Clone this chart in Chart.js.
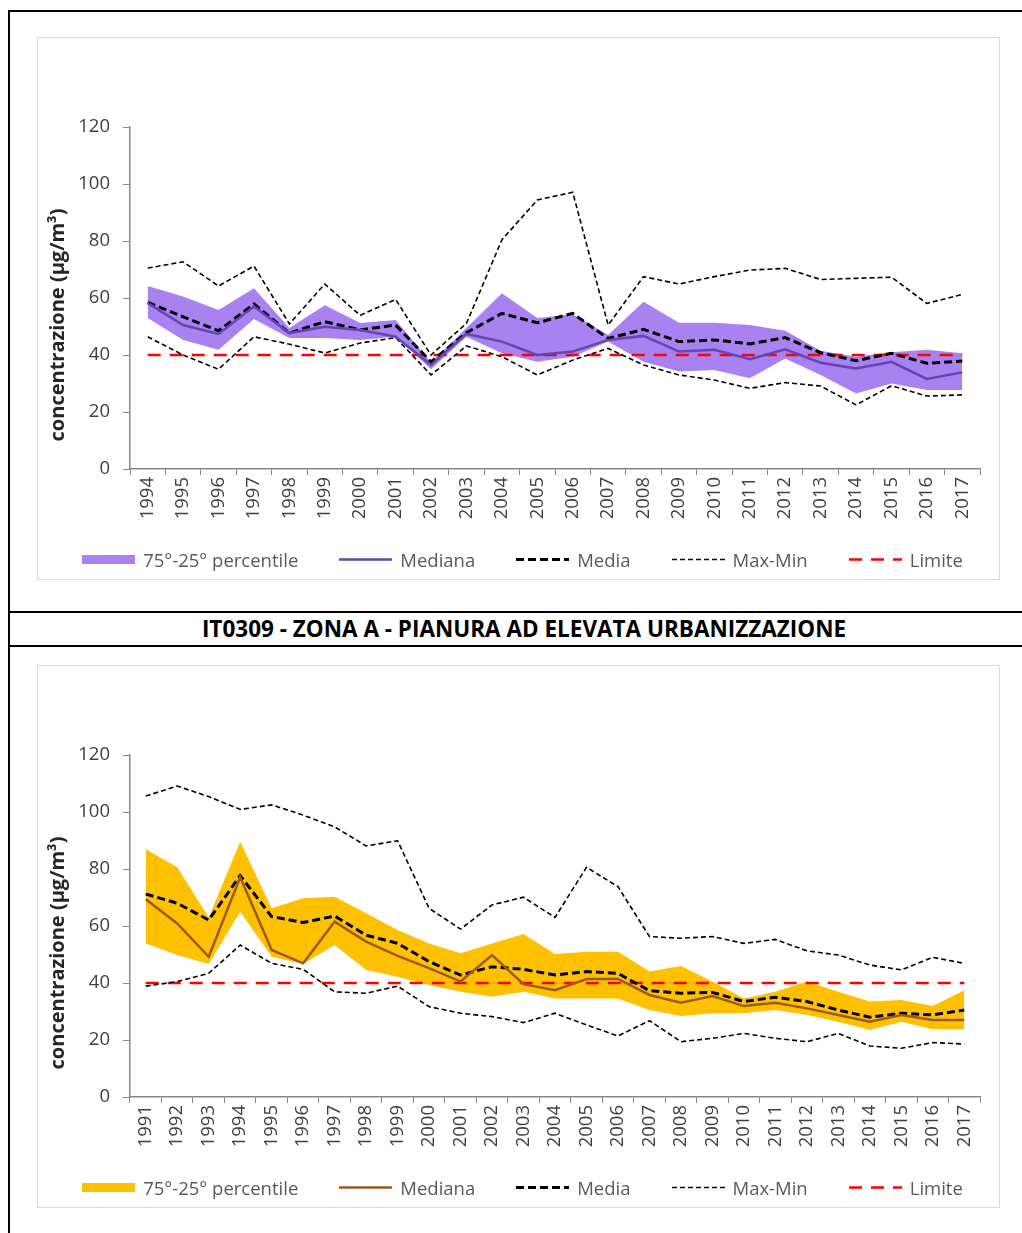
<!DOCTYPE html>
<html>
<head>
<meta charset="utf-8">
<script src="https://cdn.jsdelivr.net/npm/chart.js@4.4.1/dist/chart.umd.min.js"></script>
<style>
body { margin:0; background:#fff; width:1022px; height:1233px; position:relative; overflow:hidden; font-family:'Open Sans', sans-serif; }
.rule { position:absolute; background:#000; }
.box { position:absolute; left:37px; width:963px; height:543px; border:1px solid #d9d9d9; box-sizing:border-box; background:#fff; }
.box canvas { display:block; }
.legend { position:absolute; left:0; top:509px; width:961px; padding-left:8px; box-sizing:border-box;
          display:flex; justify-content:center; gap:41px; font-size:18.5px; line-height:25px; color:#595959; }
.legend .item { display:flex; align-items:center; gap:8px; white-space:nowrap; }
.legend svg { display:block; }
#title { position:absolute; left:24px; width:1000px; top:613px; height:32px; line-height:32px; text-align:center; font-weight:700; font-size:22.5px; color:#000; }
</style>
</head>
<body>
<div class="rule" style="left:8px;top:10px;width:1014px;height:2px"></div>
<div class="rule" style="left:8px;top:10px;width:2px;height:1223px"></div>
<div class="rule" style="left:8px;top:611px;width:1014px;height:2px"></div>
<div class="rule" style="left:8px;top:645px;width:1014px;height:2px"></div>
<div id="title">IT0309 - ZONA A - PIANURA AD ELEVATA URBANIZZAZIONE</div>

<div class="box" style="top:37px"><canvas id="chart1" width="961" height="541"></canvas><div class="legend" id="legend1"></div></div>
<div class="box" style="top:665px"><canvas id="chart2" width="961" height="541"></canvas><div class="legend" id="legend2"></div></div>

<script>
// ---------------------------------------------------------------
// top chart (1994-2017)
const years1 = ["1994","1995","1996","1997","1998","1999","2000","2001","2002","2003","2004","2005",
                "2006","2007","2008","2009","2010","2011","2012","2013","2014","2015","2016","2017"]
const p75_1   = [64.2,60.5,55.8,63.4,49.5,57.5,51.2,52.3,37.5,49.5,61.7,53.0,54.3,47.0,58.7,51.3,51.3,50.5,48.5,41.5,39.4,41.0,41.8,40.6]
const p25_1   = [53.0,45.3,41.8,52.6,46.0,46.0,45.3,46.4,35.0,46.4,40.6,37.6,39.4,44.7,37.6,34.2,34.7,31.8,38.8,33.0,26.5,30.0,27.7,27.7]
const mediana1 = [58.2,50.5,47.4,57.0,47.7,49.9,48.8,46.4,36.5,47.4,44.7,40.0,41.2,45.3,46.7,41.2,41.8,38.5,42.0,37.3,35.3,37.6,31.6,33.9]
const media1  = [58.5,53.4,48.5,57.9,47.7,51.7,48.8,50.5,37.6,47.8,54.6,51.3,54.6,45.8,49.0,44.7,45.3,43.9,46.1,40.8,38.0,40.6,37.1,37.9]
const max1    = [70.5,72.7,64.2,71.2,50.9,64.9,53.9,59.5,40.0,51.1,80.4,94.4,97.1,50.5,67.5,64.9,67.5,69.8,70.4,66.5,66.9,67.3,58.1,61.3]
const min1    = [46.4,40.0,35.0,46.4,43.8,40.7,44.2,46.1,33.0,43.2,39.4,33.0,38.2,42.3,36.5,33.0,31.2,28.3,30.3,29.1,22.5,29.2,25.6,26.0]

// bottom chart (1991-2017)
const years2 = ["1991","1992","1993","1994","1995","1996","1997","1998","1999","2000","2001","2002","2003","2004",
                "2005","2006","2007","2008","2009","2010","2011","2012","2013","2014","2015","2016","2017"]
const p75_2   = [86.9,80.6,63.0,89.6,66.2,69.7,70.3,64.5,58.6,53.9,50.4,53.9,57.2,50.2,51.0,51.0,44.0,46.0,40.5,34.6,36.9,40.5,36.9,33.5,34.0,31.9,37.5]
const p25_2   = [53.9,49.8,46.7,65.0,49.2,46.7,53.3,44.6,42.2,39.3,36.9,35.2,36.9,34.6,34.6,34.6,30.5,28.4,29.4,29.4,30.5,28.8,26.4,23.5,26.4,23.8,23.8]
const mediana2 = [69.4,60.9,49.2,77.1,51.6,46.9,61.5,54.5,49.5,45.2,40.5,49.8,39.6,37.5,41.4,41.4,35.8,33.1,35.4,31.9,33.1,31.1,28.8,26.4,28.8,27.0,27.0]
const media2  = [71.2,68.0,62.1,77.7,63.3,61.2,63.5,56.8,53.9,47.5,42.8,45.7,44.8,42.8,44.0,43.4,37.3,36.4,36.7,33.5,35.0,33.5,30.5,28.0,29.4,28.8,30.5]
const max2    = [105.6,109.1,105.4,100.9,102.5,98.9,94.8,88.1,89.9,66.2,58.9,67.4,70.1,63.0,80.6,73.8,56.3,55.7,56.3,53.9,55.3,51.3,49.8,46.3,44.6,49.0,46.9]
const min2    = [38.9,40.5,43.4,53.3,46.9,44.8,36.9,36.4,38.9,31.7,29.4,28.2,26.1,29.4,25.3,21.4,26.8,19.4,20.6,22.3,20.6,19.4,22.3,17.9,17.1,19.1,18.6]

const limite = 40
const yTicks = [0,20,40,60,80,100,120]

// ---------------------------------------------------------------
const FONT = "'Open Sans', sans-serif"

const yTitle = {
    id: 'yTitle',
    afterDraw (chart)
    {
        const ctx = chart.ctx
        ctx.save()
        ctx.translate(20, 287)
        ctx.rotate(-Math.PI / 2)
        ctx.font = "bold 20px " + FONT
        ctx.fillStyle = '#262626'
        ctx.textAlign = 'center'
        ctx.textBaseline = 'middle'
        ctx.fillText('concentrazione (µg/m³)', 0, 0)
        ctx.restore()
    }
}

function line (label, data, color, width, dash)
{
    return { label: label, data: data, borderColor: color, backgroundColor: color,
             borderWidth: width, borderDash: dash, pointRadius: 0, tension: 0, fill: false }
}

// legend built from the datasets, drawn as html below the canvas
function htmlLegend (chart, el)
{
    chart.data.datasets.filter(d => d.label !== '').forEach(d => {
        const sw = d.fill
            ? `<rect x="0" y="5" width="53" height="9" fill="${d.backgroundColor}"/>`
            : `<line x1="0" y1="9.5" x2="53" y2="9.5" stroke="${d.borderColor}" stroke-width="${d.borderWidth}" stroke-dasharray="${d.borderDash.join(' ')}"/>`
        const item = document.createElement('span')
        item.className = 'item'
        item.innerHTML = `<svg width="53" height="19">${sw}</svg><span>${d.label}</span>`
        el.appendChild(item)
    })
}

function makeChart (id, years, p75, p25, mediana, media, max, min, bandColor, medColor)
{
    const data = {
        labels: years,
        datasets: [
            { label: '75°-25° percentile', data: p75, backgroundColor: bandColor, borderWidth: 0,
              pointRadius: 0, tension: 0, fill: '+1' },
            { label: '', data: p25, backgroundColor: bandColor, borderWidth: 0,
              pointRadius: 0, tension: 0, fill: false },
            line('Mediana', mediana, medColor, 2.5, []),
            line('Media', media, '#000000', 3, [8, 4]),
            line('Max-Min', max, '#000000', 1.6, [5, 3]),
            line('', min, '#000000', 1.6, [5, 3]),
            line('Limite', years.map(() => limite), '#ff0000', 2.5, [13, 9])
        ]
    }

    const config = {
        type: 'line',
        data: data,
        options: {
            responsive: false,
            animation: false,
            layout: { padding: { top: 89, right: 19, bottom: 52, left: 0 } },
            plugins: {
                filler: { drawTime: 'beforeDatasetsDraw' },
                tooltip: { enabled: false },
                legend: { display: false }
            },
            scales: {
                x: {
                    offset: true,
                    afterFit: s => { s.height = 58 },
                    grid: { offset: true, drawOnChartArea: false, tickLength: 6, color: '#868686' },
                    border: { color: '#868686', width: 1.5 },
                    ticks: { minRotation: 90, maxRotation: 90, padding: 2, color: '#404040',
                             font: { family: FONT, size: 18.5 } }
                },
                y: {
                    min: 0, max: 120,
                    afterFit: s => { s.width = 92 },
                    afterBuildTicks: s => { s.ticks = yTicks.map(v => ({ value: v })) },
                    grid: { drawOnChartArea: false, tickLength: 7, color: '#868686' },
                    border: { color: '#868686', width: 1.5 },
                    ticks: { padding: 13, color: '#404040', font: { family: FONT, size: 18.5 } }
                }
            }
        },
        plugins: [yTitle]
    }
    return new Chart(document.getElementById(id), config)
}

const chart1 = makeChart('chart1', years1, p75_1, p25_1, mediana1, media1, max1, min1, 'rgb(168,130,240)', '#6445b4')
const chart2 = makeChart('chart2', years2, p75_2, p25_2, mediana2, media2, max2, min2, '#ffc000', '#9b5b1e')
htmlLegend(chart1, document.getElementById('legend1'))
htmlLegend(chart2, document.getElementById('legend2'))
</script>
</body>
</html>
